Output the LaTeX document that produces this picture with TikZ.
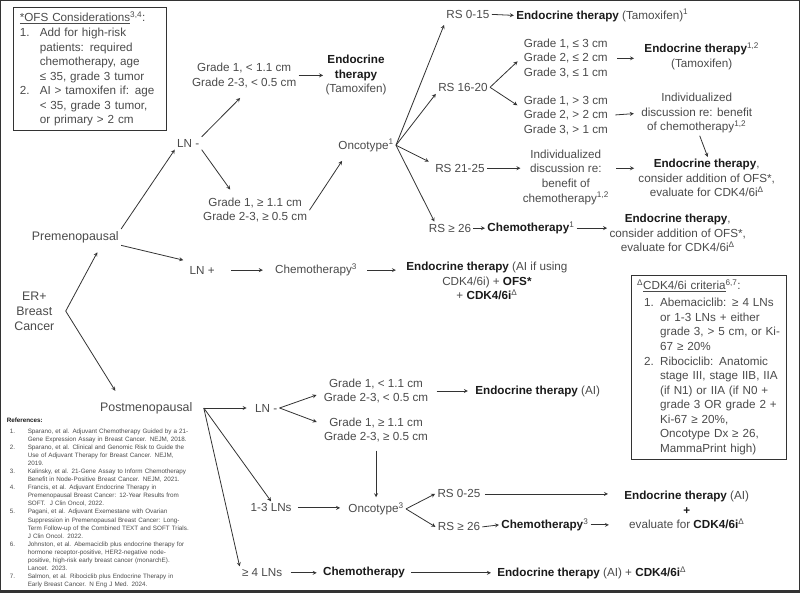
\documentclass[tikz,border=0pt]{standalone}
\usepackage{fontspec}
\setmainfont{Liberation Sans}
\usepackage{xcolor}
\definecolor{txtgray}{HTML}{4A4A4A}
\definecolor{bldgray}{HTML}{1A1A1A}
\definecolor{linegray}{HTML}{333333}
\newcommand\fmain{\fontsize{11.7pt}{14.6pt}\selectfont}
\newcommand\fbig{\fontsize{12.4pt}{15pt}\selectfont}
\newcommand\fref{\fontsize{6.3pt}{8.1pt}\selectfont}
\newcommand\bt[1]{{\bfseries\color{bldgray}#1}}
\newcommand\sups[1]{\textsuperscript{#1}}

\begin{document}
\begin{tikzpicture}[x=1pt,y=-1pt,>=stealth,thick,
  txt/.style={align=center,font=\fmain,text=txtgray,inner sep=2pt},
  infobox/.style={draw=linegray,align=left,font=\fmain,text=txtgray,inner xsep=6pt,inner ysep=4pt,anchor=north west},
  every path/.style={draw=linegray}]

\useasboundingbox (0,0) rectangle (800,593);

% side boxes
\node[infobox,text width=141pt] (ofs) at (13,7) {\underline{*OFS Considerations}\sups{3,4}:\\
\makebox[20pt][l]{1.}Add for high-risk\\
\hspace*{20pt}patients: required\\
\hspace*{20pt}chemotherapy, age\\
\hspace*{20pt}≤ 35, grade 3 tumor\\
\makebox[20pt][l]{2.}AI > tamoxifen if: age\\
\hspace*{20pt}< 35, grade 3 tumor,\\
\hspace*{20pt}or primary > 2 cm};

\node[infobox,text width=143pt] (cdk) at (631,275) {\sups{Δ}\underline{CDK4/6i criteria}\sups{6,7}:\\[2.5pt]
\hspace*{7pt}\makebox[16pt][l]{1.}Abemaciclib: ≥ 4 LNs\\
\hspace*{23pt}or 1-3 LNs + either\\
\hspace*{23pt}grade 3, > 5 cm, or Ki-\\
\hspace*{23pt}67 ≥ 20\%\\
\hspace*{7pt}\makebox[16pt][l]{2.}Ribociclib: Anatomic\\
\hspace*{23pt}stage III, stage IIB, IIA\\
\hspace*{23pt}(if N1) or IIA (if N0 +\\
\hspace*{23pt}grade 3 OR grade 2 +\\
\hspace*{23pt}Ki-67 ≥ 20\%,\\
\hspace*{23pt}Oncotype Dx ≥ 26,\\
\hspace*{23pt}MammaPrint high)};

\node[align=left,font=\fref,text=txtgray,inner sep=2pt,anchor=north west,text width=192pt] (refs) at (4,416) {{\bfseries\color{bldgray}References:}\\[2pt]
\makebox[21pt][l]{\hspace*{3pt}1.}Sparano, et al. Adjuvant Chemotherapy Guided by a 21-\\
\hspace*{21pt}Gene Expression Assay in Breast Cancer. NEJM, 2018.\\
\makebox[21pt][l]{\hspace*{3pt}2.}Sparano, et al. Clinical and Genomic Risk to Guide the\\
\hspace*{21pt}Use of Adjuvant Therapy for Breast Cancer. NEJM,\\
\hspace*{21pt}2019.\\
\makebox[21pt][l]{\hspace*{3pt}3.}Kalinsky, et al. 21-Gene Assay to Inform Chemotherapy\\
\hspace*{21pt}Benefit in Node-Positive Breast Cancer. NEJM, 2021.\\
\makebox[21pt][l]{\hspace*{3pt}4.}Francis, et al. Adjuvant Endocrine Therapy in\\
\hspace*{21pt}Premenopausal Breast Cancer: 12-Year Results from\\
\hspace*{21pt}SOFT.\ \ J Clin Oncol, 2022.\\
\makebox[21pt][l]{\hspace*{3pt}5.}Pagani, et al. Adjuvant Exemestane with Ovarian\\
\hspace*{21pt}Suppression in Premenopausal Breast Cancer: Long-\\
\hspace*{21pt}Term Follow-up of the Combined TEXT and SOFT Trials.\\
\hspace*{21pt}J Clin Oncol. 2022.\\
\makebox[21pt][l]{\hspace*{3pt}6.}Johnston, et al. Abemaciclib plus endocrine therapy for\\
\hspace*{21pt}hormone receptor-positive, HER2-negative node-\\
\hspace*{21pt}positive, high-risk early breast cancer (monarchE).\\
\hspace*{21pt}Lancet. 2023.\\
\makebox[21pt][l]{\hspace*{3pt}7.}Salmon, et al. Ribociclib plus Endocrine Therapy in\\
\hspace*{21pt}Early Breast Cancer. N Eng J Med. 2024.};

% root
\node[txt,font=\fbig] (er) at (34,311) {ER+\\Breast\\Cancer};
\node[txt,font=\fbig] (pre) at (75,237) {Premenopausal};
\node[txt,font=\fbig] (post) at (146,408) {Postmenopausal};

% premenopausal
\node[txt] (lnm1) at (188,143) {LN -};
\node[txt] (lnp) at (202,270) {LN +};
\node[txt] (ga1) at (244,75) {Grade 1, < 1.1 cm\\Grade 2-3, < 0.5 cm};
\node[txt] (gb1) at (255,210) {Grade 1, ≥ 1.1 cm\\Grade 2-3, ≥ 0.5 cm};
\node[txt] (endo1) at (356,75) {\bt{Endocrine}\\\bt{therapy}\\(Tamoxifen)};
\node[txt] (onc1) at (366,145) {Oncotype\sups{1}};
\node[txt] (rs1) at (468,14) {RS 0-15};
\node[txt] (rs2) at (463,87) {RS 16-20};
\node[txt] (rs3) at (460,168) {RS 21-25};
\node[txt] (rs4) at (450,228) {RS ≥ 26};
\node[txt,anchor=west] (endo2) at (514,15) {\bt{Endocrine therapy} (Tamoxifen)\sups{1}};
\node[txt] (gc1) at (566,58) {Grade 1, ≤ 3 cm\\Grade 2, ≤ 2 cm\\Grade 3, ≤ 1 cm};
\node[txt] (gd1) at (566,115) {Grade 1, > 3 cm\\Grade 2, > 2 cm\\Grade 3, > 1 cm};
\node[txt] (endo3) at (702,56) {\bt{Endocrine therapy}\sups{1,2}\\(Tamoxifen)};
\node[txt] (ind1) at (697,113) {Individualized\\discussion re: benefit\\of chemotherapy\sups{1,2}};
\node[txt] (ind2) at (566,177) {Individualized\\discussion re:\\benefit of\\chemotherapy\sups{1,2}};
\node[txt] (endo4) at (707,178) {\bt{Endocrine therapy},\\consider addition of OFS*,\\evaluate for CDK4/6i\sups{Δ}};
\node[txt] (chemo1) at (531,228) {\bt{Chemotherapy}\sups{1}};
\node[txt] (endo5) at (678,233) {\bt{Endocrine therapy},\\consider addition of OFS*,\\evaluate for CDK4/6i\sups{Δ}};
\node[txt] (chemo2) at (316,270) {Chemotherapy\sups{3}};
\node[txt] (endo6) at (487,281) {\bt{Endocrine therapy} (AI if using\\CDK4/6i) + \bt{OFS*}\\+ \bt{CDK4/6i}\sups{Δ}};

% postmenopausal
\node[txt] (lnm2) at (266,408) {LN -};
\node[txt] (ga2) at (376,391) {Grade 1, < 1.1 cm\\Grade 2-3, < 0.5 cm};
\node[txt] (gb2) at (376,430) {Grade 1, ≥ 1.1 cm\\Grade 2-3, ≥ 0.5 cm};
\node[txt,anchor=west] (endo7) at (473,391) {\bt{Endocrine therapy} (AI)};
\node[txt] (ln13) at (271,508) {1-3 LNs};
\node[txt] (ln4) at (262,573) {≥ 4 LNs};
\node[txt] (onc2) at (376,509) {Oncotype\sups{3}};
\node[txt] (rs5) at (459,494) {RS 0-25};
\node[txt] (rs6) at (459,527) {RS ≥ 26};
\node[txt] (chemo3) at (545,525) {\bt{Chemotherapy}\sups{3}};
\node[txt] (endo8) at (687,510) {\bt{Endocrine therapy} (AI)\\\bt{+}\\evaluate for \bt{CDK4/6i}\sups{Δ}};
\node[txt] (chemo4) at (364,573) {\bt{Chemotherapy}};
\node[txt,anchor=west] (endo9) at (495,573) {\bt{Endocrine therapy} (AI) + \bt{CDK4/6i}\sups{Δ}};

% connectors
\draw[->] ([xshift=9pt]er.east) -- ([xshift=22pt,yshift=-7pt]pre.south);
\draw[->] ([xshift=9pt]er.east) -- ([xshift=-31pt,yshift=9pt]post.north);

\draw[->] (pre.north east) -- (lnm1.south west);
\draw[->] (pre.south east) -- ([xshift=-4pt,yshift=10pt]lnp.west);
\draw[->] (lnm1.north east) -- ([xshift=-4pt,yshift=-8pt]ga1.south);
\draw[->] (lnm1.south east) -- ([xshift=-25pt,yshift=6pt]gb1.north);
\draw[->] (ga1.east) -- (ga1.east -| endo1.west);
\draw[->] (gb1.east) -- ([xshift=-24pt,yshift=-7pt]onc1.south);
\draw[->] (onc1.east) -- ([yshift=-4pt]rs1.south west);
\draw[->] (onc1.east) -- (rs2.south west);
\draw[->] (onc1.east) -- ([xshift=-4pt]rs3.north west);
\draw[->] (onc1.east) -- ([xshift=8pt]rs4.north west);
\draw[->] (rs1.east) -- (endo2.west);
\draw[->] (rs2.east) -- ([xshift=-4pt,yshift=-3pt]gc1.west);
\draw[->] (rs2.east) -- ([xshift=-4pt,yshift=10pt]gd1.west);
\draw[->,shorten <=7pt,shorten >=8pt] (gc1.east) -- (gc1.east -| endo3.west);
\draw[->,shorten <=5pt,shorten >=5pt] (gd1.east) -- (ind1.west);
\draw[->] ([xshift=3pt]ind1.south) -- ([xshift=1pt]endo4.north);
\draw[->] (rs3.east) -- (rs3.east -| ind2.west);
\draw[->,shorten <=5pt,shorten >=2pt] (rs3.east -| ind2.east) -- (rs3.east -| endo4.west);
\draw[->] (rs4.east) -- (chemo1.west);
\draw[->] (chemo1.east) -- (chemo1.east -| endo5.west);
\draw[->,shorten <=14pt,shorten >=10pt] (lnp.east) -- (chemo2.west);
\draw[->,shorten <=8pt,shorten >=8pt] (chemo2.east) -- (chemo2.east -| endo6.west);

\draw[->,shorten >=6pt] ([xshift=9pt]post.east) -- (lnm2.west);
\draw[->] ([xshift=9pt]post.east) -- (ln13.north);
\draw[->] ([xshift=9pt]post.east) -- (ln4.north west);
\draw[->] (lnm2.east) -- ([xshift=-5pt,yshift=-4pt]ga2.west);
\draw[->] (lnm2.east) -- ([xshift=-5pt,yshift=8pt]gb2.west);
\draw[->,shorten <=6pt,shorten >=5pt] (ga2.east) -- (ga2.east -| endo7.west);
\draw[->,shorten <=6pt,shorten >=3pt] (gb2.south) -- (gb2.south |- onc2.north);
\draw[->,shorten <=4pt,shorten >=6pt] (ln13.east) -- (ln13.east -| onc2.west);
\draw[->] (onc2.east) -- (rs5.west);
\draw[->] (onc2.east) -- (rs6.west);
\draw[->,shorten <=2pt,shorten >=14pt] (rs5.east) -- (rs5.east -| endo8.west);
\draw[->] (rs6.east) -- (chemo3.west);
\draw[->,shorten >=13pt] (chemo3.east) -- (chemo3.east -| endo8.west);
\draw[->,shorten <=6pt,shorten >=4pt] (ln4.east) -- (ln4.east -| chemo4.west);
\draw[->,shorten <=4pt,shorten >=4pt] (chemo4.east) -- (chemo4.east -| endo9.west);

% bottom edge
\draw[line width=2pt] (0,591) -- (800,591);
\end{tikzpicture}
\end{document}
